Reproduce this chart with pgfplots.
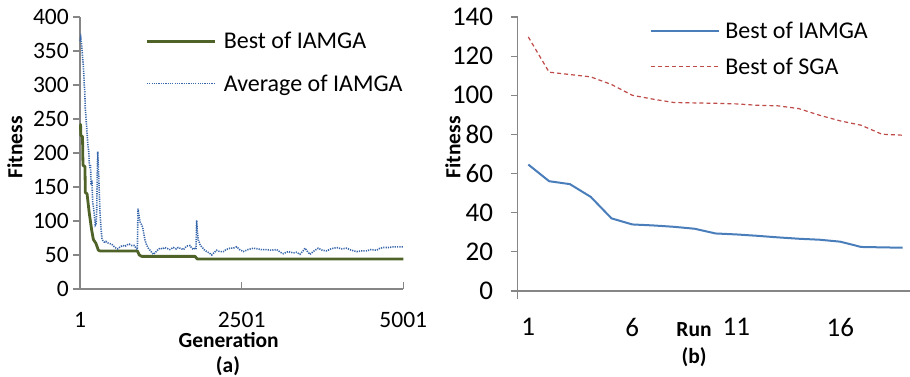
\documentclass[border=0pt]{standalone}
\usepackage{fontspec}
\setmainfont{Carlito}
\usepackage{pgfplots}
\pgfplotsset{compat=1.18}
\definecolor{axgray}{HTML}{868686}
\definecolor{bestgreen}{HTML}{4F6228}
\definecolor{avgblue}{HTML}{3766AA}
\definecolor{lineblue}{HTML}{4A7EBB}
\definecolor{linered}{HTML}{BE4B48}
\pgfplotsset{
  mystyle/.style={
    scale only axis,
    axis lines=left,
    axis line style={axgray, line width=1.2pt, -},
    tick style={axgray, line width=1.2pt},
    tick align=outside,
    major tick length=7pt,
    minor tick num=0,
    /pgf/number format/assume math mode=true,
    /pgf/number format/1000 sep={},
    clip=false,
    ytick pos=left, xtick pos=left,
    legend image code/.code={\draw[##1] (0pt,0pt) -- (68pt,0pt);},
  }
}
\begin{document}
\begin{tikzpicture}
\useasboundingbox (0pt,0pt) rectangle (910pt,377pt);
% ---------------- (b) ----------------
\begin{axis}[mystyle,
  at={(517.7pt,86pt)}, anchor=south west,
  width=392.3pt, height=274pt,
  xmin=0.49, xmax=19.35, ymin=0, ymax=140,
  xtick={1,6,11,16}, ytick={0,20,...,140},
  every major x tick/.append style={draw=none},
  y axis line style={shorten <=-8pt},
  xticklabel style={font=\fontsize{27}{32}\selectfont, anchor=center, inner sep=0pt, yshift=-29pt},
  yticklabel style={font=\fontsize{27}{32}\selectfont, anchor=east, inner sep=0pt, xshift=-17.4pt},
  legend style={draw=none, fill=none, inner sep=0pt, at={(axis description cs:0.3367,0.8837)}, anchor=west,
    row sep=17.7pt, column sep=5.4pt, font=\fontsize{24}{28}\selectfont, nodes={inner sep=0pt}},
  legend cell align=left,
]
\addplot[lineblue, line width=2pt, line join=round] coordinates {
(1,64.6)(2,56.1)(3,54.6)(4,48.1)(5,37.1)(6,34.0)(7,33.5)(8,32.8)(9,31.8)(10,29.4)(11,28.9)(12,28.2)(13,27.4)(14,26.7)(15,26.2)(16,25.2)(17,22.5)(18,22.3)(19,22.1)
};
\addlegendentry{Best of IAMGA}
\addplot[linered, line width=1.2pt, dash pattern=on 4pt off 3pt] coordinates {
(1,129.8)(2,111.8)(3,110.6)(4,109.4)(5,105.5)(6,100)(7,98)(8,96.3)(9,96.1)(10,95.9)(11,95.6)(12,94.9)(13,94.6)(14,93.2)(15,89.8)(16,86.9)(17,84.7)(18,80.1)(19,79.6)
};
\addlegendentry{Best of SGA}
\end{axis}
% ---------------- (a) ----------------
\begin{axis}[mystyle,
  at={(80pt,88pt)}, anchor=south west,
  width=323.3pt, height=272pt,
  xmin=1, xmax=5001, ymin=0, ymax=400,
  xtick={1,2501,5001}, ytick={0,50,...,400},
  every major x tick/.append style={yshift=7pt},
  xticklabel style={font=\fontsize{23.5}{28}\selectfont, anchor=center, inner sep=0pt, yshift=-23.5pt},
  yticklabel style={font=\fontsize{23.5}{28}\selectfont, anchor=east, inner sep=0pt, xshift=-4pt},
  legend style={draw=none, fill=none, inner sep=0pt, at={(axis description cs:0.202,0.8327)}, anchor=west,
    row sep=24.4pt, column sep=7.5pt, font=\fontsize{24}{28}\selectfont, nodes={inner sep=0pt}},
  legend cell align=left,
]
\addplot[bestgreen, line width=2.8pt, line join=round] coordinates {
(1,242)(10,242)(12,226)(40,224)(47,182)(78,180)(83,142)(110,140)(145,111)(181,87)(207,73)(248,67)(285,57)(310,56)(888,56)(918,50)(955,48)(1780,48)(1815,44)(5001,44)
};
\addlegendentry{Best of IAMGA}
\addplot[avgblue, line width=1.6pt, dash pattern=on 1.2pt off 1.1pt] coordinates {
(1,365)(12,370)(25,360)(43,339)(55,325)(67,300)(75,290)(83,265)(95,250)(109,231)(120,215)(136,202)(145,185)(156,177)(165,182)(171,153)(185,160)(197,128)(210,120)(222,109)(232,100)(238,94)(250,96)(259,113)(268,170)(275,202)(282,185)(290,167)(300,140)(310,113)(325,90)(341,74)(360,70)(377,69)(400,70)(420,68)(454,67)(490,66)(531,62)(560,60)(584,59)(610,61)(640,63)(661,64)(700,63)(730,65)(763,66)(800,64)(841,64)(870,60)(888,58)(898,118)(910,110)(929,99)(950,95)(970,91)(990,80)(1006,72)(1030,65)(1058,60)(1100,55)(1135,51)(1170,54)(1200,57)(1238,60)(1280,59)(1310,61)(1341,60)(1390,58)(1444,61)(1490,59)(1520,61)(1547,60)(1600,58)(1650,63)(1702,64)(1730,60)(1754,58)(1780,61)(1795,58)(1805,101)(1815,85)(1831,72)(1860,65)(1882,62)(1920,58)(1960,55)(2000,53)(2037,50)(2080,54)(2114,57)(2160,55)(2218,55)(2260,58)(2321,60)(2370,60)(2424,62)(2470,58)(2527,55)(2600,58)(2681,60)(2750,59)(2800,58)(2888,58)(2960,57)(3042,58)(3100,54)(3145,52)(3220,55)(3300,53)(3350,54)(3403,51)(3450,56)(3480,60)(3520,55)(3558,51)(3620,56)(3686,60)(3750,57)(3815,56)(3880,59)(3970,61)(4050,59)(4125,60)(4200,57)(4279,55)(4350,56)(4434,56)(4500,58)(4588,57)(4640,60)(4692,61)(4770,61)(4846,62)(4920,62)(5001,62)
};
\addlegendentry{Average of IAMGA}
\end{axis}
% ---------------- labels ----------------
\begin{scope}[every node/.style={font=\bfseries\fontsize{21.5}{26}\selectfont, inner sep=0pt}]
\node[rotate=90] at (15pt,229.5pt) {Fitness};
\node at (228.7pt,37pt) {Generation};
\node at (228pt,11pt) {(a)};
\node[rotate=90] at (453pt,229.5pt) {Fitness};
\node at (694pt,47pt) {Run};
\node at (694pt,20pt) {(b)};
\end{scope}
\end{tikzpicture}
\end{document}
